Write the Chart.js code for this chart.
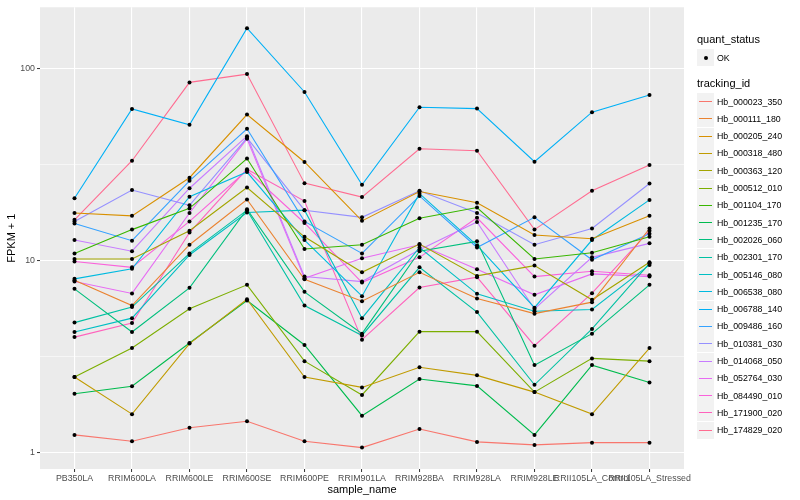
<!DOCTYPE html>
<html>
<head>
<meta charset="utf-8">
<script src="https://cdn.jsdelivr.net/npm/chart.js@4.4.1/dist/chart.umd.min.js"></script>
<style>
  body { margin: 0; background: #fff; font-family: "Liberation Sans", Arial, sans-serif; }
  #wrap { position: relative; width: 800px; height: 500px; }
  #legend { position: absolute; left: 0; top: 0; width: 800px; height: 500px; pointer-events: none; }
  .ttl { position: absolute; font-size: 11px; color: #000; line-height: 13px; }
  .key { position: absolute; width: 17px; height: 17px; background: #F2F2F2; }
  .lab { position: absolute; font-size: 8.8px; color: #000; line-height: 10px; }
</style>
</head>
<body>
<div id="wrap">
  <canvas id="chart"></canvas>
  <div id="legend"></div>
</div>
<script>
// sample_name categories
const categories = ['PB350LA', 'RRIM600LA', 'RRIM600LE', 'RRIM600SE', 'RRIM600PE', 'RRIM901LA',
  'RRIM928BA', 'RRIM928LA', 'RRIM928LE', 'RRII105LA_Control', 'RRII105LA_Stressed']

// FPKM + 1 per tracking_id
const hb_000023_350 = [1.24, 1.15, 1.35, 1.46, 1.15, 1.065, 1.33, 1.14, 1.10, 1.13, 1.13]
const hb_000111_180 = [7.9, 5.84, 12.1, 20.8, 8.0, 6.15, 8.7, 6.35, 5.3, 6.08, 14.7]
const hb_000205_240 = [17.7, 17.1, 27, 57.5, 32.6, 16.1, 22.9, 20, 13.6, 13, 17.1]
const hb_000318_480 = [2.48, 1.59, 3.7, 6.3, 2.48, 2.19, 2.79, 2.53, 2.07, 1.59, 3.51]
const hb_000363_120 = [10.2, 10.2, 14.3, 24.0, 13.3, 8.7, 12.2, 8.33, 9.42, 6.26, 9.8]
const hb_000512_010 = [2.48, 3.51, 5.62, 7.48, 3.0, 2.0, 4.27, 4.27, 2.07, 3.1, 3.0]
const hb_001104_170 = [10.9, 14.5, 18.7, 34.0, 11.5, 12.1, 16.6, 18.9, 10.2, 11.0, 13.3]
const hb_001235_170 = [2.03, 2.22, 3.73, 6.2, 3.64, 1.56, 2.42, 2.23, 1.24, 2.86, 2.32]
const hb_002026_060 = [7.13, 4.25, 7.22, 18.5, 6.88, 4.17, 11.2, 12.6, 2.86, 4.17, 7.48]
const hb_002301_170 = [4.76, 5.73, 10.9, 18.3, 5.84, 4.08, 9.23, 5.4, 2.26, 4.41, 9.68]
const hb_005146_080 = [4.25, 5.02, 10.7, 17.8, 18.3, 5.02, 11.7, 6.72, 5.45, 5.57, 9.5]
const hb_006538_080 = [8.04, 9.06, 21.5, 28.9, 12.8, 6.53, 22.3, 12.0, 5.69, 12.8, 20.7]
const hb_006788_140 = [21.1, 61.5, 50.9, 162, 75.4, 24.8, 62.8, 61.8, 32.7, 59.2, 72.7]
const hb_009486_160 = [15.6, 12.7, 26, 48.5, 16.0, 10.9, 21.7, 11.7, 16.8, 10.1, 13.8]
const hb_010381_030 = [16.0, 23.3, 19.4, 43.5, 18.3, 16.8, 23.1, 17.7, 12.1, 14.7, 25.2]
const hb_014068_050 = [12.8, 11.2, 23.8, 44.4, 8.26, 7.78, 11.4, 15.9, 5.6, 10.4, 12.3]
const hb_052764_030 = [7.78, 6.75, 17.7, 43.0, 8.1, 10.3, 12.1, 9.02, 6.64, 8.53, 8.26]
const hb_084490_010 = [9.9, 9.23, 16.0, 29.5, 15.7, 7.69, 10.4, 16.7, 8.26, 8.8, 8.39]
const hb_171900_020 = [4.0, 4.73, 14.0, 29.9, 20.4, 3.88, 7.25, 8.2, 3.61, 6.77, 14.3]
const hb_174829_020 = [16.3, 33.1, 84.6, 93.4, 25.3, 21.4, 38.2, 37.3, 14.5, 23.1, 31.4]

const trackingIds = ['Hb_000023_350', 'Hb_000111_180', 'Hb_000205_240', 'Hb_000318_480', 'Hb_000363_120',
  'Hb_000512_010', 'Hb_001104_170', 'Hb_001235_170', 'Hb_002026_060', 'Hb_002301_170', 'Hb_005146_080',
  'Hb_006538_080', 'Hb_006788_140', 'Hb_009486_160', 'Hb_010381_030', 'Hb_014068_050', 'Hb_052764_030',
  'Hb_084490_010', 'Hb_171900_020', 'Hb_174829_020']
const series = [hb_000023_350, hb_000111_180, hb_000205_240, hb_000318_480, hb_000363_120,
  hb_000512_010, hb_001104_170, hb_001235_170, hb_002026_060, hb_002301_170, hb_005146_080,
  hb_006538_080, hb_006788_140, hb_009486_160, hb_010381_030, hb_014068_050, hb_052764_030,
  hb_084490_010, hb_171900_020, hb_174829_020]

// y axis breaks
const yMajor = [1, 10, 100]
const yMinor = [3.1623, 31.623]

const colors = ['#F8766D', '#EA8331', '#D89000', '#C09B00', '#A3A500', '#7CAE00', '#39B600', '#00BB4E',
  '#00BF7D', '#00C1A3', '#00BFC4', '#00BAE0', '#00B0F6', '#35A2FF', '#9590FF', '#C77CFF', '#E76BF3',
  '#FA62DB', '#FF62BC', '#FF6C91']

const FONT = '"Liberation Sans", Arial, sans-serif'

const lineSets = series.map((vals, s) => ({
  label: trackingIds[s],
  data: vals.map((v, i) => ({ x: i, y: v })),
  borderColor: colors[s],
  borderWidth: 1.1,
  pointRadius: 0,
  fill: false,
  tension: 0,
  order: 1
}))

const pointSet = {
  label: 'OK',
  data: series.flatMap(vals => vals.map((v, i) => ({ x: i, y: v }))),
  showLine: false,
  pointRadius: 2,
  pointBackgroundColor: '#000',
  pointBorderWidth: 0,
  order: 0
}

const panelBg = {
  id: 'panelBg',
  beforeDraw(chart) {
    const { ctx, chartArea: a } = chart
    ctx.save()
    ctx.fillStyle = '#EBEBEB'
    ctx.fillRect(a.left, a.top, a.right - a.left, a.bottom - a.top)
    ctx.restore()
  }
}

new Chart(document.getElementById('chart'), {
  type: 'line',
  data: { datasets: [...lineSets, pointSet] },
  plugins: [panelBg],
  options: {
    responsive: true,
    maintainAspectRatio: false,
    animation: false,
    layout: { padding: { left: 0, top: 5, right: 116, bottom: 0 } },
    plugins: { legend: { display: false }, tooltip: { enabled: false } },
    scales: {
      x: {
        type: 'linear',
        min: -0.6,
        max: 10.6,
        afterBuildTicks: s => { s.ticks = categories.map((c, i) => ({ value: i })) },
        afterFit: s => { s.height = 31 },
        ticks: {
          autoSkip: false, maxRotation: 0, minRotation: 0, padding: 1,
          color: '#4D4D4D', font: { family: FONT, size: 8.8 },
          callback: (v, i) => categories[i]
        },
        grid: { color: '#fff', lineWidth: 1.1, tickColor: '#333', tickLength: 3, tickWidth: 1 },
        border: { display: false },
        title: { display: true, text: 'sample_name', color: '#000', font: { family: FONT, size: 11 }, padding: { top: 0, bottom: 3 } }
      },
      y: {
        type: 'logarithmic',
        min: 0.824,
        max: 208,
        afterBuildTicks: s => { s.ticks = [...yMajor, ...yMinor].map(v => ({ value: v })) },
        afterFit: s => { s.width = 40 },
        ticks: {
          padding: 2, color: '#4D4D4D', font: { family: FONT, size: 8.8 },
          callback: v => yMajor.includes(v) ? String(v) : ''
        },
        grid: {
          color: '#fff',
          lineWidth: c => yMajor.includes(c.tick.value) ? 1.1 : 0.55,
          tickColor: c => yMajor.includes(c.tick.value) ? '#333' : 'rgba(0,0,0,0)',
          tickLength: 3,
          tickWidth: 1
        },
        border: { display: false },
        title: { display: true, text: 'FPKM + 1', color: '#000', font: { family: FONT, size: 11 }, padding: { top: 5, bottom: 0 } }
      }
    }
  }
})

// ggplot-style legend
const leg = document.getElementById('legend')
function add(cls, css, text) {
  const d = document.createElement('div')
  d.className = cls
  Object.assign(d.style, css)
  if (text) d.textContent = text
  leg.appendChild(d)
  return d
}
add('ttl', { left: '697px', top: '33px' }, 'quant_status')
add('key', { left: '697px', top: '49px' }).innerHTML =
  '<div style="position:absolute;left:6.5px;top:6.5px;width:4px;height:4px;border-radius:2px;background:#000"></div>'
add('lab', { left: '717px', top: '52.5px' }, 'OK')
add('ttl', { left: '697px', top: '77px' }, 'tracking_id')
trackingIds.forEach((id, s) => {
  const top = 93 + s * 17.3
  add('key', { left: '697px', top: top + 'px' }).innerHTML =
    '<div style="position:absolute;left:2px;top:8px;width:13px;height:1.1px;background:' + colors[s] + '"></div>'
  add('lab', { left: '717px', top: (top + 3.5) + 'px' }, id)
})
</script>
</body>
</html>
